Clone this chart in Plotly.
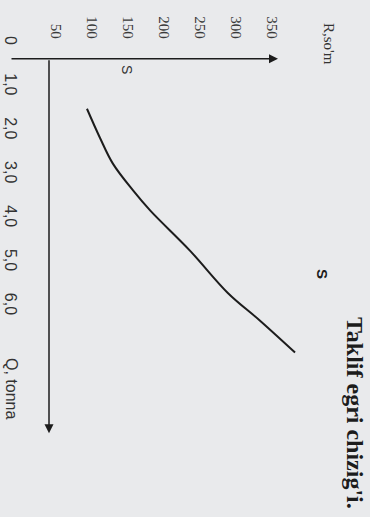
import plotly.graph_objects as go

price = [93, 111, 129, 157, 181, 236, 289, 333, 382]
quantity = [1.5, 2.16, 2.75, 3.36, 3.82, 4.73, 5.70, 6.32, 7.05]

price_ticks = [50, 100, 150, 200, 250, 300, 350]
price_labels = ["50", "100", "150", "200", "250", "300", "350"]
q_ticks = [0, 1, 2, 3, 4, 5, 6]
q_labels = ["0", "1,0", "2,0", "3,0", "4,0", "5,0", "6,0"]

W, H = 370, 517
ML, MT = 22, 42
BG = "#e9eaec"


# pixel -> data / paper helpers (the page is drawn turned 90 degrees)
def dx(px):
    return (px - 20) / 0.72


def dy(px):
    return (px - 42) / 44


def fx(px):
    return (px - ML) / (W - ML)


def fy(px):
    return 1 - (px - MT) / (H - MT)


ink = "#1c1c1c"
fig = go.Figure()

fig.add_trace(go.Scatter(
    x=price, y=quantity,
    mode="lines",
    line=dict(color=ink, width=2, shape="spline"),
    hoverinfo="skip",
))

# axes drawn as arrows
fig.add_annotation(x=dx(278), y=dy(58), ax=dx(10), ay=dy(58),
                   xref="x", yref="y", axref="x", ayref="y",
                   text="", showarrow=True, arrowhead=2, arrowsize=1.2,
                   arrowwidth=1.5, arrowcolor=ink)
fig.add_annotation(x=dx(49), y=dy(433), ax=dx(49), ay=dy(58),
                   xref="x", yref="y", axref="x", ayref="y",
                   text="", showarrow=True, arrowhead=2, arrowsize=1.2,
                   arrowwidth=1.5, arrowcolor=ink)

serif = "Liberation Serif"
sans = "Liberation Sans"
labels = [
    ("R,so'm", 329, 44, dict(family=serif, size=15, color="#333")),
    ("Q, tonna", 12, 388, dict(family=sans, size=16, color="#333")),
    ("S", 127, 69, dict(family=sans, size=14, color="#333")),
    ("<b>S</b>", 323, 274, dict(family=sans, size=15, color=ink)),
    ("<b>Taklif egri chizig'i.</b>", 355, 413, dict(family=serif, size=24, color=ink)),
]
for txt, px, py, font in labels:
    fig.add_annotation(x=fx(px), y=fy(py), xref="paper", yref="paper",
                       text=txt, showarrow=False, textangle=90, font=font,
                       xanchor="center", yanchor="middle")

fig.update_xaxes(
    range=[dx(ML), dx(W)], side="top",
    tickvals=price_ticks, ticktext=price_labels, tickangle=90,
    tickfont=dict(family=serif, size=15, color="#3a3a3a"),
    showgrid=False, zeroline=False, showline=False, ticks="",
)
fig.update_yaxes(
    range=[dy(H), dy(MT) - 0.02],
    tickvals=q_ticks, ticktext=q_labels, tickangle=90,
    tickfont=dict(family=sans, size=16, color="#333"),
    showgrid=False, zeroline=False, showline=False, ticks="",
)

fig.update_layout(
    width=W, height=H,
    margin=dict(l=ML, r=0, t=MT, b=0),
    paper_bgcolor=BG,
    plot_bgcolor=BG,
    showlegend=False,
)

fig.write_html(
    "out.html",
    config={"displayModeBar": False},
    post_script="document.body.style.margin='0';"
                "document.body.style.overflow='hidden';"
                f"document.body.style.background='{BG}';",
)
